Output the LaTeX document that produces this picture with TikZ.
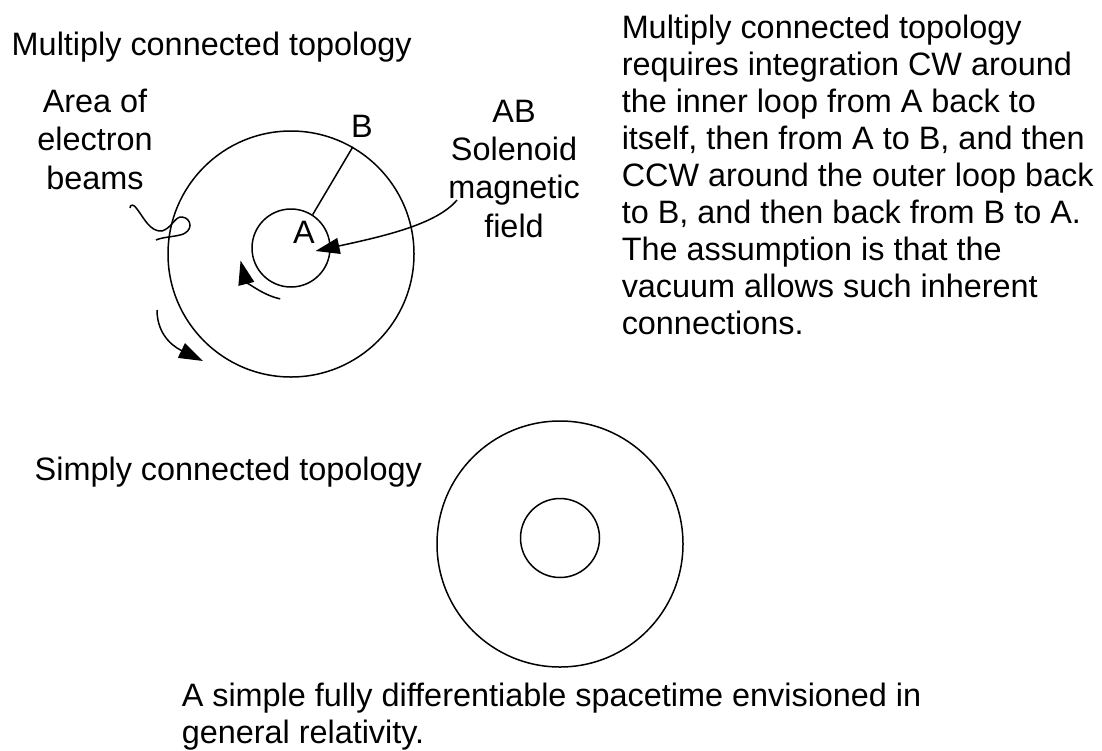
\documentclass[tikz,border=0pt]{standalone}
\usepackage{fontspec}
\setmainfont{Liberation Sans}
\usetikzlibrary{arrows.meta}

\begin{document}
\begin{tikzpicture}[x=0.5pt,y=-0.5pt,line width=0.75pt,>={Triangle[length=12pt,width=8pt]},
  every node/.style={font=\fontsize{16.2}{18.5}\selectfont,inner sep=0pt},
  ring/.style={circle,draw,inner sep=0pt},
  callout/.style={anchor=north,align=center,font=\fontsize{16.2}{19.2}\selectfont}]
  \useasboundingbox (0,0) rectangle (1102,750);

  % multiply connected
  \node[anchor=base west] (titleM) at (11,55) {Multiply connected topology};
  \node[ring,minimum size=123pt] (outerM) at (291,254) {};
  \node[ring,minimum size=39pt] (innerM) at (291,248) {};
  \node[anchor=base] (labA) at (304,243) {A};
  \node[anchor=base] (labB) at (362,137) {B};
  \draw (innerM.57) -- (outerM.60);

  \node[callout] (beams) at (95,88) {Area of\\electron\\beams};
  \node[callout] (field) at (514,99) {AB\\Solenoid\\magnetic\\field};
  \coordinate (fieldend) at (457,200);
  \coordinate (beamend) at (130,208);

  \draw[->] (fieldend) .. controls (437,224) and (385,236) .. (labA.east |- 0,251);
  \draw (beamend) .. controls (130,204) and (134,204) .. (137,209)
    .. controls (144,218) and (150,232) .. (162,231)
    .. controls (172,228) and (175,216) .. (182,217)
    .. controls (192,218) and (194,232) .. (180,235)
    .. controls (172,237) and (163,237) .. (156,240);

  % integration arrows
  \draw[->] ([shift={(102:52)}]innerM.center) arc[start angle=102,end angle=166,radius=52];
  \draw[->] ([shift={(-134,56)}]outerM.center) .. controls (157,330) and (168,344) .. (203,361);

  \node[anchor=north west,align=left] (descM) at (621,14) {Multiply connected topology\\
    requires integration CW around\\the inner loop from A back to\\
    itself, then from A to B, and then\\CCW around the outer loop back\\
    to B, and then back from B to A.\\The assumption is that the\\
    vacuum allows such inherent\\connections.};

  % simply connected
  \node[anchor=base west] (titleS) at (34,480) {Simply connected topology};
  \node[ring,minimum size=123pt] (outerS) at (560,544) {};
  \node[ring,minimum size=39.5pt] (innerS) at (560,538) {};
  \node[anchor=north west,align=left] (descS) at (181,682) {A simple fully differentiable spacetime envisioned in\\
    general relativity.};
\end{tikzpicture}
\end{document}
